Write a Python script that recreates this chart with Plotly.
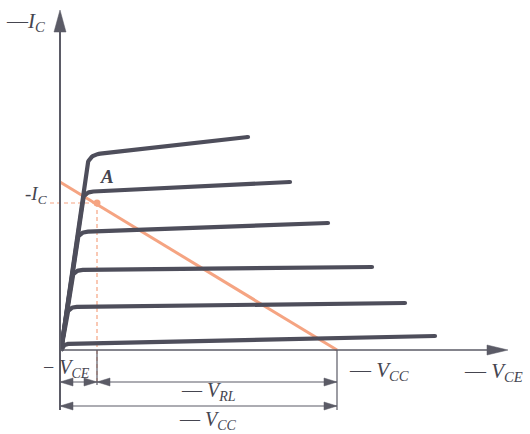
import plotly.graph_objects as go

# Output characteristics of a PNP transistor with its DC load line.
# Units: one unit on each axis equals one screen pixel of the drawing.

# branch of each characteristic: level where it leaves the common rise,
# and its far end point
levels = [195, 158, 118, 80, 43, 6]
end_v = [188, 230, 268, 312, 345, 375]
end_i = [213, 168, 127, 83, 47, 14]
knee_r = [12, 10, 10, 10, 9, 6]

# saturation rise shared by all curves: V = stem_v0 + stem_slope * I
stem_v0 = 2.0
stem_slope = 0.135

# load line and operating point A
vcc = 277
ic_sat = 168
q_v, q_i = 37, 147

# axis extents
v_axis_end = 448
i_axis_end = 340
ext_low = -60        # extension lines below the V axis
dim_row1 = -32       # -V_CE / -V_RL dimension row
dim_row2 = -56       # -V_CC dimension row
q_ext_low = -35

CURVE = "#4e4e5b"
AXIS = "#5b5b66"
ORANGE = "#f5a482"
TEXT = "#45454f"
SERIF = "Liberation Serif, DejaVu Serif, serif"


def branch(level, ev, ei, r, n=16):
    xk = stem_v0 + stem_slope * level
    s = (ei - level) / (ev - xk)
    p0 = (stem_v0 + stem_slope * (level - r), level - r)
    c = (xk, level)
    p2 = (xk + r, level + s * r)
    xs, ys = [stem_v0 - 1, p0[0]], [0, p0[1]]
    for k in range(1, n + 1):
        t = k / n
        xs.append((1 - t) ** 2 * p0[0] + 2 * (1 - t) * t * c[0] + t * t * p2[0])
        ys.append((1 - t) ** 2 * p0[1] + 2 * (1 - t) * t * c[1] + t * t * p2[1])
    xs.append(ev)
    ys.append(ei)
    return xs, ys


def head(tx, ty, direction, length, half):
    """Filled triangular arrow head with its tip at (tx, ty)."""
    if direction == "up":
        pts = [(tx, ty), (tx - half, ty - length), (tx + half, ty - length)]
    elif direction == "right":
        pts = [(tx, ty), (tx - length, ty + half), (tx - length, ty - half)]
    else:  # left
        pts = [(tx, ty), (tx + length, ty + half), (tx + length, ty - half)]
    d = "M " + " L ".join(f"{x},{y}" for x, y in pts) + " Z"
    return dict(type="path", path=d, xref="x", yref="y",
                fillcolor=AXIS, line=dict(color=AXIS, width=0.5), layer="above")


fig = go.Figure()

# load line
fig.add_trace(go.Scatter(x=[0, vcc], y=[ic_sat, 0], mode="lines",
                         line=dict(color=ORANGE, width=3), hoverinfo="skip"))
# dashed projections of A
fig.add_trace(go.Scatter(x=[-10, q_v], y=[q_i, q_i], mode="lines",
                         line=dict(color=ORANGE, width=1.2, dash="4px,3px"), hoverinfo="skip"))
fig.add_trace(go.Scatter(x=[q_v, q_v], y=[q_i, q_ext_low], mode="lines",
                         line=dict(color=ORANGE, width=1.2, dash="4px,3px"), hoverinfo="skip"))

# characteristic curves
for lv, ev, ei, r in zip(levels, end_v, end_i, knee_r):
    xs, ys = branch(lv, ev, ei, r)
    fig.add_trace(go.Scatter(x=xs, y=ys, mode="lines",
                             line=dict(color=CURVE, width=4.2, shape="linear"),
                             hoverinfo="skip"))
    # rounded far end of each branch
    fig.add_trace(go.Scatter(x=[ev], y=[ei], mode="markers",
                             marker=dict(color=CURVE, size=4.2, line=dict(width=0)),
                             hoverinfo="skip"))

# operating point
fig.add_trace(go.Scatter(x=[q_v], y=[q_i], mode="markers",
                         marker=dict(color=ORANGE, size=7), hoverinfo="skip"))

shapes = []
# axes
shapes.append(dict(type="line", x0=0, y0=ext_low, x1=0, y1=i_axis_end - 20,
                   line=dict(color=AXIS, width=2)))
shapes.append(head(0, i_axis_end, "up", 22, 6))
shapes.append(dict(type="line", x0=0, y0=0, x1=v_axis_end - 18, y1=0,
                   line=dict(color=AXIS, width=1.5)))
shapes.append(head(v_axis_end, 0, "right", 21, 5))

# extension lines
for xv, low in [(q_v, q_ext_low), (vcc, ext_low)]:
    shapes.append(dict(type="line", x0=xv, y0=0, x1=xv, y1=low,
                       line=dict(color=AXIS, width=1.2)))
# dimension rows
shapes.append(dict(type="line", x0=0, y0=dim_row1, x1=vcc, y1=dim_row1,
                   line=dict(color=AXIS, width=1.2)))
shapes.append(dict(type="line", x0=0, y0=dim_row2, x1=vcc, y1=dim_row2,
                   line=dict(color=AXIS, width=1.2)))
shapes += [
    head(0, dim_row1, "left", 13, 4),
    head(q_v, dim_row1, "right", 13, 4),
    head(q_v, dim_row1, "left", 13, 4),
    head(vcc, dim_row1, "right", 13, 4),
    head(0, dim_row2, "left", 13, 4),
    head(vcc, dim_row2, "right", 13, 4),
]


def label(x, y, text, size=20, anchor="center"):
    return dict(x=x, y=y, xref="x", yref="y", text=text, showarrow=False,
                xanchor=anchor, yanchor="middle",
                font=dict(family=SERIF, size=size, color=TEXT))


annotations = [
    label(-35, 328, "—<i>I</i><sub><i>C</i></sub>", 21),
    label(-24, 155, "-<i>I</i><sub><i>C</i></sub>", 19),
    label(47, 174, "<b><i>A</i></b>", 19),
    label(-19, -18, "− <i>V</i><sub><i>CE</i></sub>", 20, "left"),
    label(287, -21, "— <i>V</i><sub><i>CC</i></sub>", 21, "left"),
    label(402, -22, "— <i>V</i><sub><i>CE</i></sub>", 21, "left"),
    label(148, -41, "— <i>V</i><sub><i>RL</i></sub>", 20),
    label(148, -70, "— <i>V</i><sub><i>CC</i></sub>", 20),
]

fig.update_layout(
    width=530, height=434,
    margin=dict(l=0, r=0, t=0, b=0),
    paper_bgcolor="white", plot_bgcolor="white",
    showlegend=False,
    xaxis=dict(range=[-60, 470], visible=False, fixedrange=True),
    yaxis=dict(range=[-84, 350], visible=False, fixedrange=True),
    shapes=shapes,
    annotations=annotations,
)

fig.write_html("out.html")
